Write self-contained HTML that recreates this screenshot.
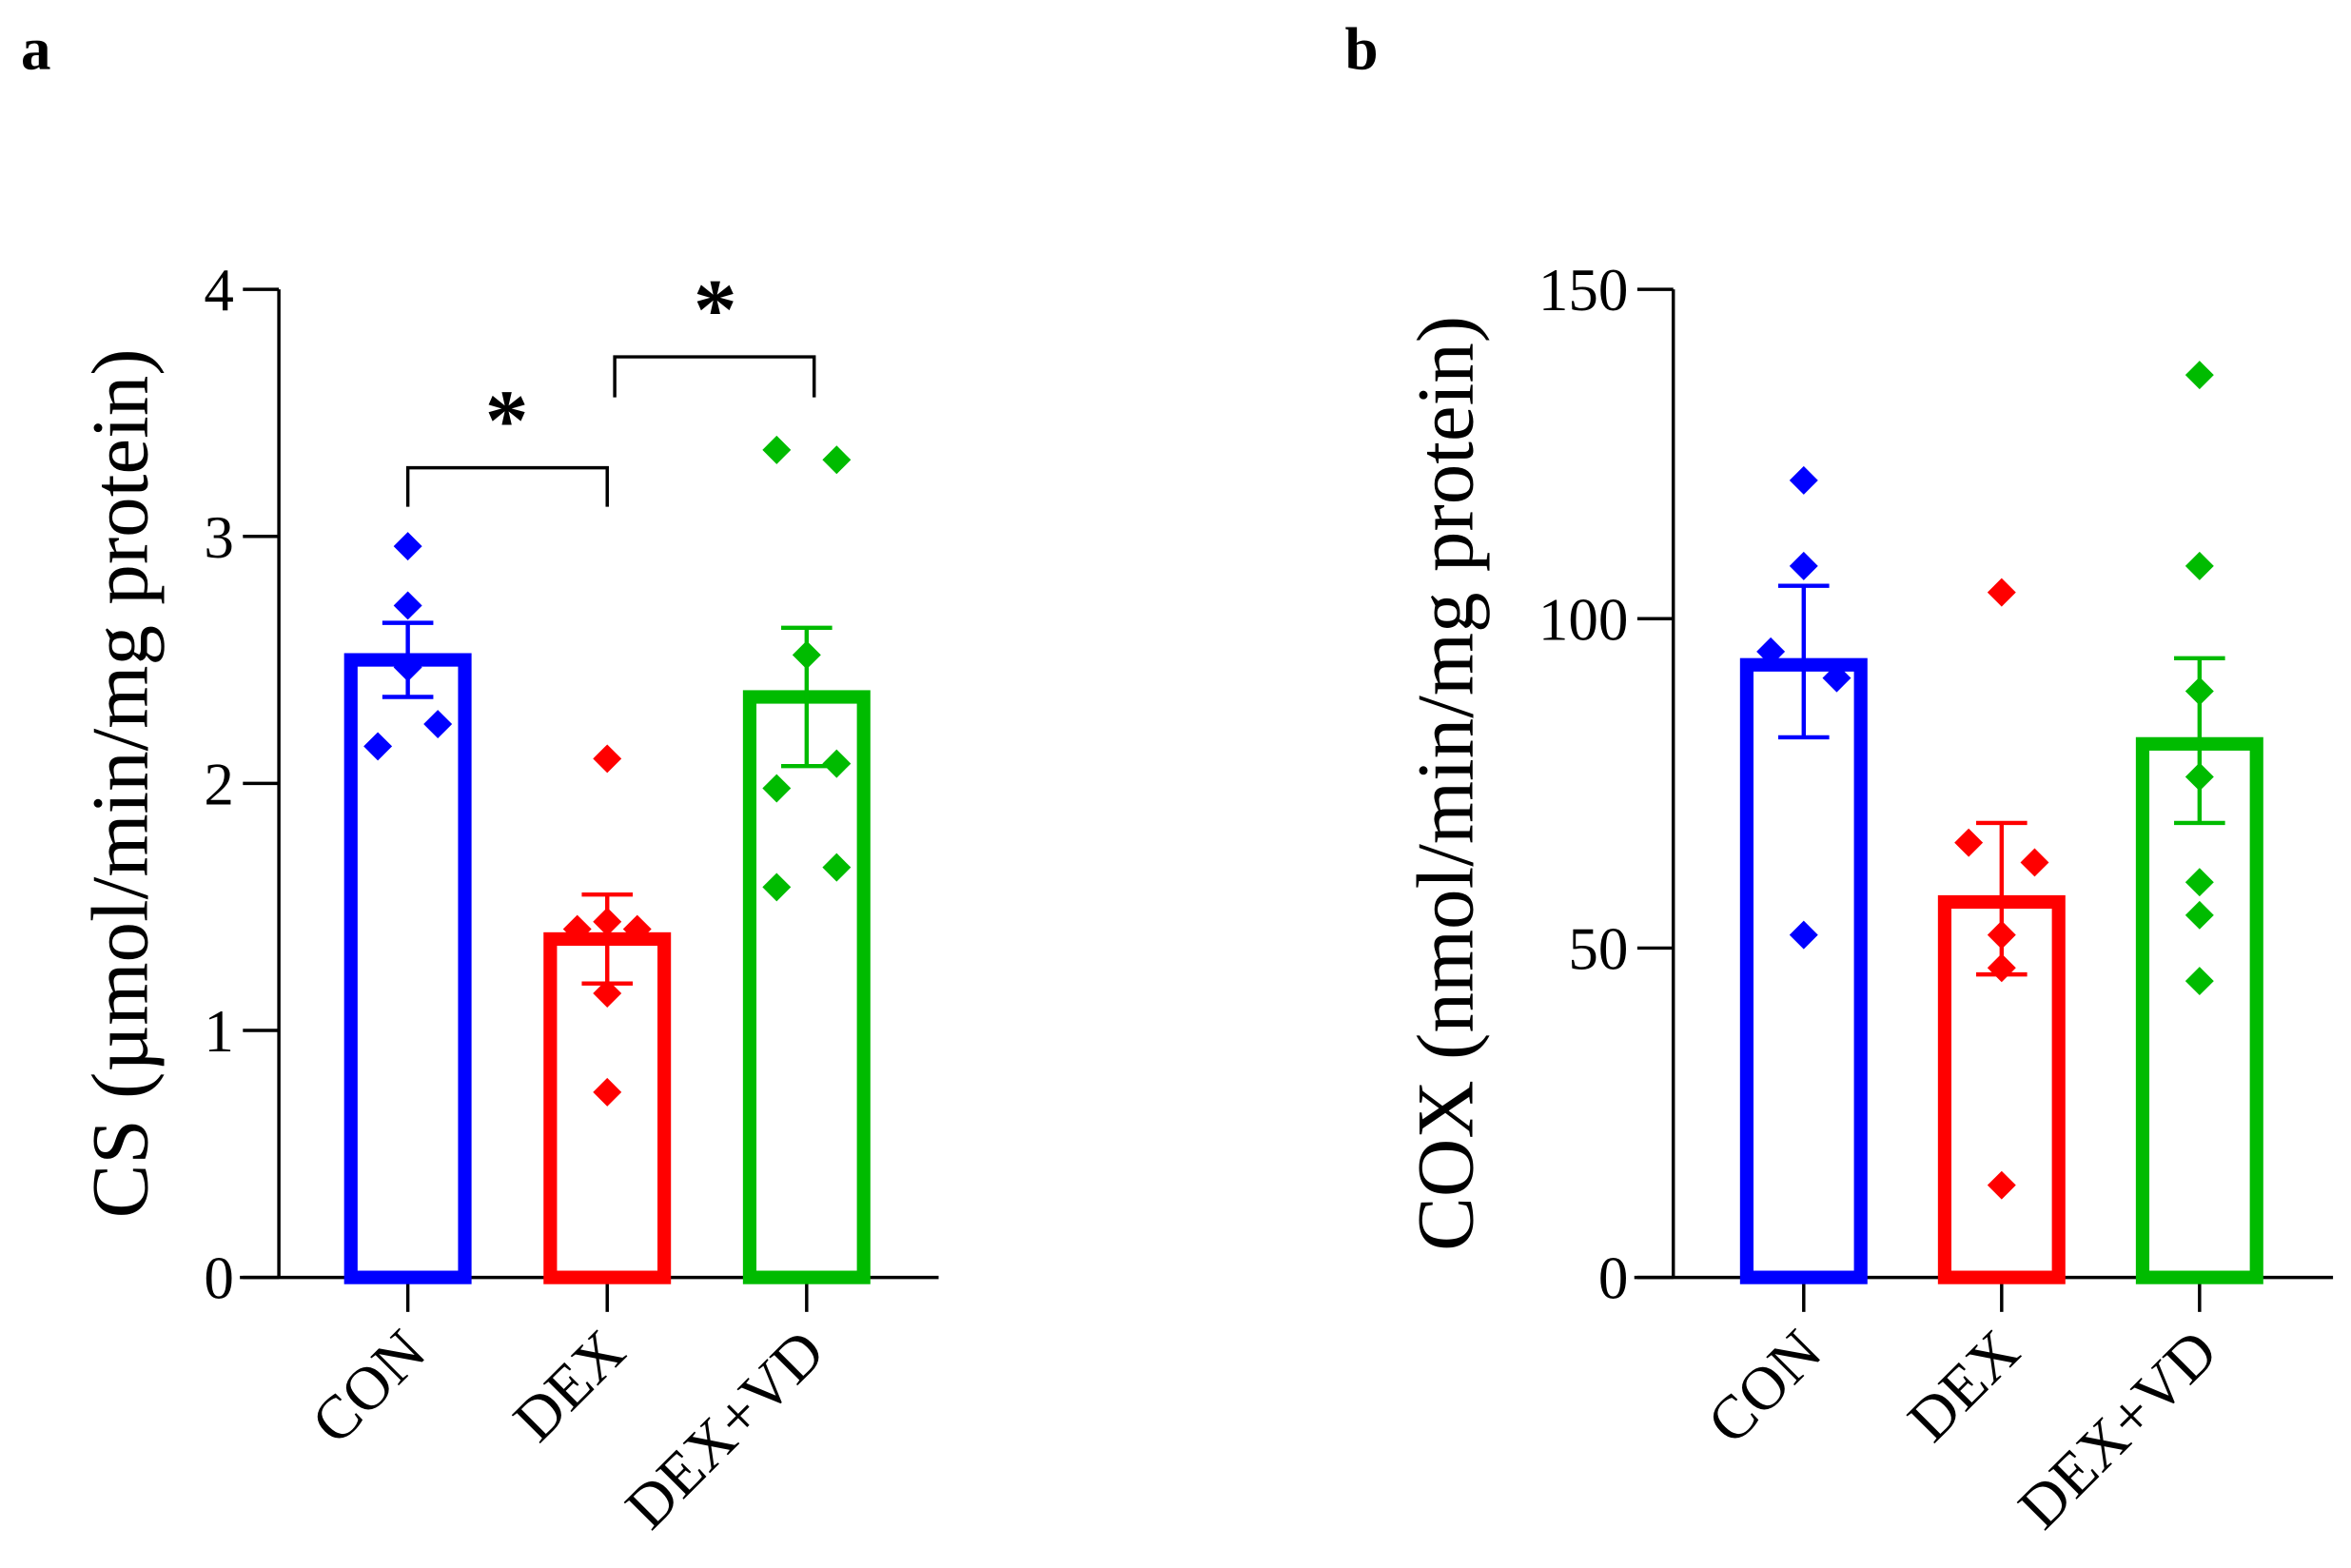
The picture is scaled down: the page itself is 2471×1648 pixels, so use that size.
<!DOCTYPE html>
<html><head><meta charset="utf-8"><style>
html,body{margin:0;padding:0;background:#fff;}
svg{display:block;font-family:"Liberation Serif",serif;}
</style></head><body>
<svg id="fig" width="2471" height="1648" viewBox="0 0 1568 1045.8" preserveAspectRatio="none" xmlns="http://www.w3.org/2000/svg">
<text x="14" y="46" font-size="40" font-weight="bold">a</text>
<text x="897" y="46" font-size="40" font-weight="bold">b</text>
</svg>
<script>
const categories = ["CON","DEX","DEX+VD"];
const colors = ["#0000ff","#ff0000","#00bb00"];
// Panel a (CS)
const csMeans = [2.50, 1.37, 2.35];
const csSemLow = [2.35, 1.19, 2.07];
const csSemHigh = [2.65, 1.55, 2.63];
const csPoints = [[2.96,2.72,2.47,2.15,2.24],[2.10,1.41,1.44,1.41,1.15,0.75],[3.35,3.31,2.52,2.08,1.98,1.66,1.58]];
const csOffsets = [[0,0,0,-1,1],[0,-1,0,1,0,0],[-1,1,0,1,-1,1,-1]];
const csTicks = [0,1,2,3,4];
// Panel b (COX)
const coxMeans = [93, 57, 81];
const coxSemLow = [82, 46, 69];
const coxSemHigh = [105, 69, 94];
const coxPoints = [[121,108,95,91,52],[104,66,63,52,47,14],[137,108,89,76,60,55,45]];
const coxOffsets = [[0,0,-1,1,0],[0,-1,1,0,0,0],[0,0,0,0,0,0,0]];
const coxTicks = [0,50,100,150];

const NS="http://www.w3.org/2000/svg";
const svg=document.getElementById('fig');
function mk(tag,attrs,parent){const e=document.createElementNS(NS,tag);for(const k in attrs)e.setAttribute(k,attrs[k]);(parent||svg).appendChild(e);return e;}

function panel(cfg){
  const g=mk('g',{});
  
  
  const y=v=>cfg.y0-(v/cfg.ymax)*(cfg.y0-cfg.y1);
  const x=i=>cfg.cx0+i*cfg.step;
  const ya=mk('line',{x1:cfg.ax,y1:cfg.y1,x2:cfg.ax,y2:cfg.y0,stroke:'#000','stroke-width':2.2},g);
  
  
  const xa=mk('line',{x1:cfg.ax-26,y1:cfg.y0,x2:cfg.xend,y2:cfg.y0,stroke:'#000','stroke-width':2.2},g);
  
  
  cfg.ticks.forEach(t=>{
    mk('line',{x1:cfg.ax-24,y1:y(t),x2:cfg.ax,y2:y(t),stroke:'#000','stroke-width':2.2},g);
    const tl=mk('text',{x:cfg.ax-30,y:y(t)+14,'font-size':40,'text-anchor':'end'},g);
    tl.textContent=t;
    
    
  });
  const yt=mk('text',{x:0,y:0,'font-size':54,'text-anchor':'middle',transform:`translate(${cfg.titleX},${(cfg.y0+cfg.y1)/2+0}) rotate(-90)`},g);
  yt.textContent=cfg.ylabel;
  
  
  categories.forEach((c,i)=>{
    const cx=x(i);
    mk('line',{x1:cx,y1:cfg.y0,x2:cx,y2:cfg.y0+23,stroke:'#000','stroke-width':2.2},g);
    const cl=mk('text',{x:0,y:0,'font-size':41,'text-anchor':'end',transform:`translate(${cx+14},${cfg.y0+52}) rotate(-45)`},g);
    cl.textContent=c;
    
    
    const hw=38;
    const bar=mk('rect',{x:cx-hw,y:y(cfg.means[i]),width:hw*2,height:cfg.y0-y(cfg.means[i]),fill:'none',stroke:colors[i],'stroke-width':9},g);
    
    
    const eb=mk('g',{stroke:colors[i],'stroke-width':2.8},g);
    
    
    mk('line',{x1:cx,y1:y(cfg.lo[i]),x2:cx,y2:y(cfg.hi[i])},eb);
    mk('line',{x1:cx-17,y1:y(cfg.lo[i]),x2:cx+17,y2:y(cfg.lo[i])},eb);
    mk('line',{x1:cx-17,y1:y(cfg.hi[i]),x2:cx+17,y2:y(cfg.hi[i])},eb);
    cfg.points[i].forEach((v,j)=>{
      const px=cx+cfg.offsets[i][j]*cfg.dx, py=y(v), r=9.5;
      const p=mk('polygon',{points:`${px},${py-r} ${px+r},${py} ${px},${py+r} ${px-r},${py}`,fill:colors[i]},g);
      
      
    });
  });
  return {x,y,g};
}

const A=panel({name:'panel-a-cs-chart',ax:186,y0:852,y1:193,ymax:4,xend:626,cx0:272,step:133,ticks:csTicks,titleX:98,
  ylabel:'CS (µmol/min/mg protein)',means:csMeans,lo:csSemLow,hi:csSemHigh,points:csPoints,offsets:csOffsets,dx:20});
const B=panel({name:'panel-b-cox-chart',ax:1116,y0:852,y1:193,ymax:150,xend:1556,cx0:1203,step:132,ticks:coxTicks,titleX:982,
  ylabel:'COX (nmol/min/mg protein)',means:coxMeans,lo:coxSemLow,hi:coxSemHigh,points:coxPoints,offsets:coxOffsets,dx:22});

function bracket(x1,x2,yy,drop,sx,sy){
  const br=mk('path',{d:`M${x1},${yy+drop} V${yy} H${x2} V${yy+drop}`,fill:'none',stroke:'#000','stroke-width':2.2},A.g);
  
  
  const s=mk('text',{x:sx,y:sy,'font-size':58,'font-weight':'bold','text-anchor':'middle'},A.g);
  s.textContent='*';
  
  
}
bracket(272,405,312,26,338,300);
bracket(410,543,238,27,477,226);
</script>
</body></html>
